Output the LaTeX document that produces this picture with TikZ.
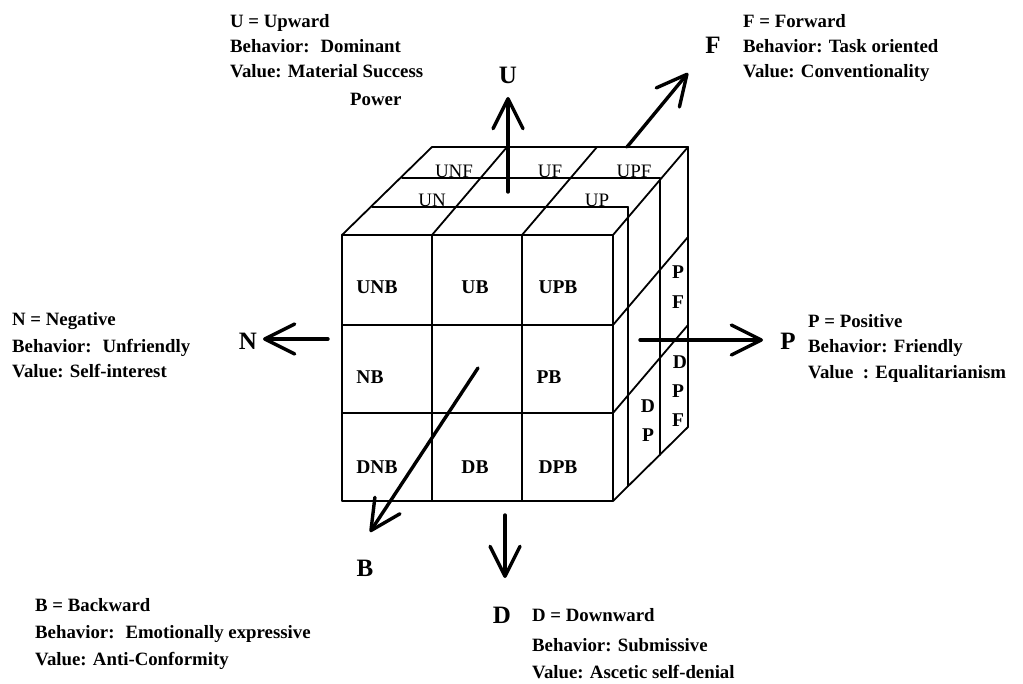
\documentclass[tikz,border=0pt]{standalone}
\usepackage{fontspec}
\setmainfont{Liberation Serif}
\usetikzlibrary{arrows.meta}
\begin{document}
\begin{tikzpicture}[x=1pt,y=-1pt,
  grid/.style={line width=1.8pt, line cap=round, line join=round},
  axis/.style={line width=3.4pt, line cap=round, -{Straight Barb[round,length=30pt,width=30pt]}},
  txt/.style={font=\fontsize{18.8}{18.8}\selectfont\bfseries, anchor=base west, inner sep=0pt},
  cell/.style={font=\fontsize{19.5}{19.5}\selectfont\bfseries, anchor=base, inner sep=0pt},
  toplab/.style={font=\fontsize{19}{19}\selectfont, anchor=base, inner sep=0pt},
  axlab/.style={font=\fontsize{25}{25}\selectfont\bfseries, inner sep=0pt}]
\useasboundingbox (0,0) rectangle (1023,684);
\fill[white] (0,0) rectangle (1023,684);

% ---- front face: 3x3 grid ----
\draw[grid] (342,235) rectangle (613,501);
\draw[grid] (432,235) -- (432,501) (522,235) -- (522,501);
\draw[grid] (342,325) -- (613,325) (342,413) -- (613,413);

% ---- top face ----
\draw[grid] (342,235) -- (432,147) -- (688,147);
\draw[grid] (432,235) -- (507,147) (522,235) -- (597,147) (613,235) -- (688,147);
\draw[grid] (372,207) -- (628,207) (402,178) -- (660,178);

% ---- right face ----
\draw[grid] (628,207) -- (628,486) (660,178) -- (660,455) (688,147) -- (688,427);
\draw[grid] (613,325) -- (688,237) (613,413) -- (688,325) (613,501) -- (688,427);

% ---- cell labels, front ----
\node[cell] (unb) at (377,294) {UNB};
\node[cell] (ub)  at (475,294) {UB};
\node[cell] (upb) at (558,294) {UPB};
\node[cell] (nb)  at (370,384) {NB};
\node[cell] (pb)  at (549,384) {PB};
\node[cell] (dnb) at (377,473) {DNB};
\node[cell] (db)  at (475,473) {DB};
\node[cell] (dpb) at (558,473) {DPB};

% ---- cell labels, top ----
\node[toplab] (unf) at (454,178) {UNF};
\node[toplab] (uf)  at (550,178) {UF};
\node[toplab] (upf) at (634,178) {UPF};
\node[toplab] (un)  at (432,207) {UN};
\node[toplab] (up)  at (597,207) {UP};

% ---- cell labels, right side ----
\node[cell] (pf1) at (678,279) {P};
\node[cell] (pf2) at (678,309) {F};
\node[cell] (dpf1) at (680,369) {D};
\node[cell] (dpf2) at (678,398) {P};
\node[cell] (dpf3) at (678,427) {F};
\node[cell] (dp1) at (648,413) {D};
\node[cell] (dp2) at (648,442) {P};

% ---- axes ----
\coordinate (u0) at (508,192);  \coordinate (u1) at (508,97);
\coordinate (d0) at (505,515);  \coordinate (d1) at (505,578);
\coordinate (n0) at (328,339);  \coordinate (n1) at (263,339);
\coordinate (p0) at (640,340);  \coordinate (p1) at (763,340);
\coordinate (f0) at (627,147);  \coordinate (f1) at (688,73);
\coordinate (b0) at (478,368);  \coordinate (b1) at (370,532);
\draw[axis] (u0) -- (u1);
\draw[axis] (d0) -- (d1);
\draw[axis] (n0) -- (n1);
\draw[axis] (p0) -- (p1);
\draw[axis] (f0) -- (f1);
\draw[axis] (b0) -- (b1);

\node[axlab] (lu) at (508,75)  {U};
\node[axlab] (lf) at (713,45)  {F};
\node[axlab] (ln) at (248,341) {N};
\node[axlab] (lp) at (788,341) {P};
\node[axlab] (lb) at (365,568) {B};
\node[axlab] (ld) at (502,615) {D};

% ---- descriptions ----
\node[txt] (u-a) at (230,28)  {U = Upward};
\node[txt] (u-b) at (230,53)  {Behavior:~ Dominant};
\node[txt] (u-c) at (230,78)  {Value: Material Success};
\node[txt] (u-d) at (350,106) {Power};

\node[txt] (f-a) at (743,28) {F = Forward};
\node[txt] (f-b) at (743,53) {Behavior: Task oriented};
\node[txt] (f-c) at (743,78) {Value: Conventionality};

\node[txt] (n-a) at (12,326) {N = Negative};
\node[txt] (n-b) at (12,353) {Behavior:~ Unfriendly};
\node[txt] (n-c) at (12,378) {Value: Self-interest};

\node[txt] (p-a) at (808,328) {P = Positive};
\node[txt] (p-b) at (808,353) {Behavior: Friendly};
\node[txt] (p-c) at (808,379) {Value~~: Equalitarianism};

\node[txt] (b-a) at (35,611) {B = Backward};
\node[txt] (b-b) at (35,638) {Behavior:~ Emotionally expressive};
\node[txt] (b-c) at (35,665) {Value: Anti-Conformity};

\node[txt] (d-a) at (532,621) {D = Downward};
\node[txt] (d-b) at (532,651) {Behavior: Submissive};
\node[txt] (d-c) at (532,678) {Value: Ascetic self-denial};
\end{tikzpicture}
\end{document}
